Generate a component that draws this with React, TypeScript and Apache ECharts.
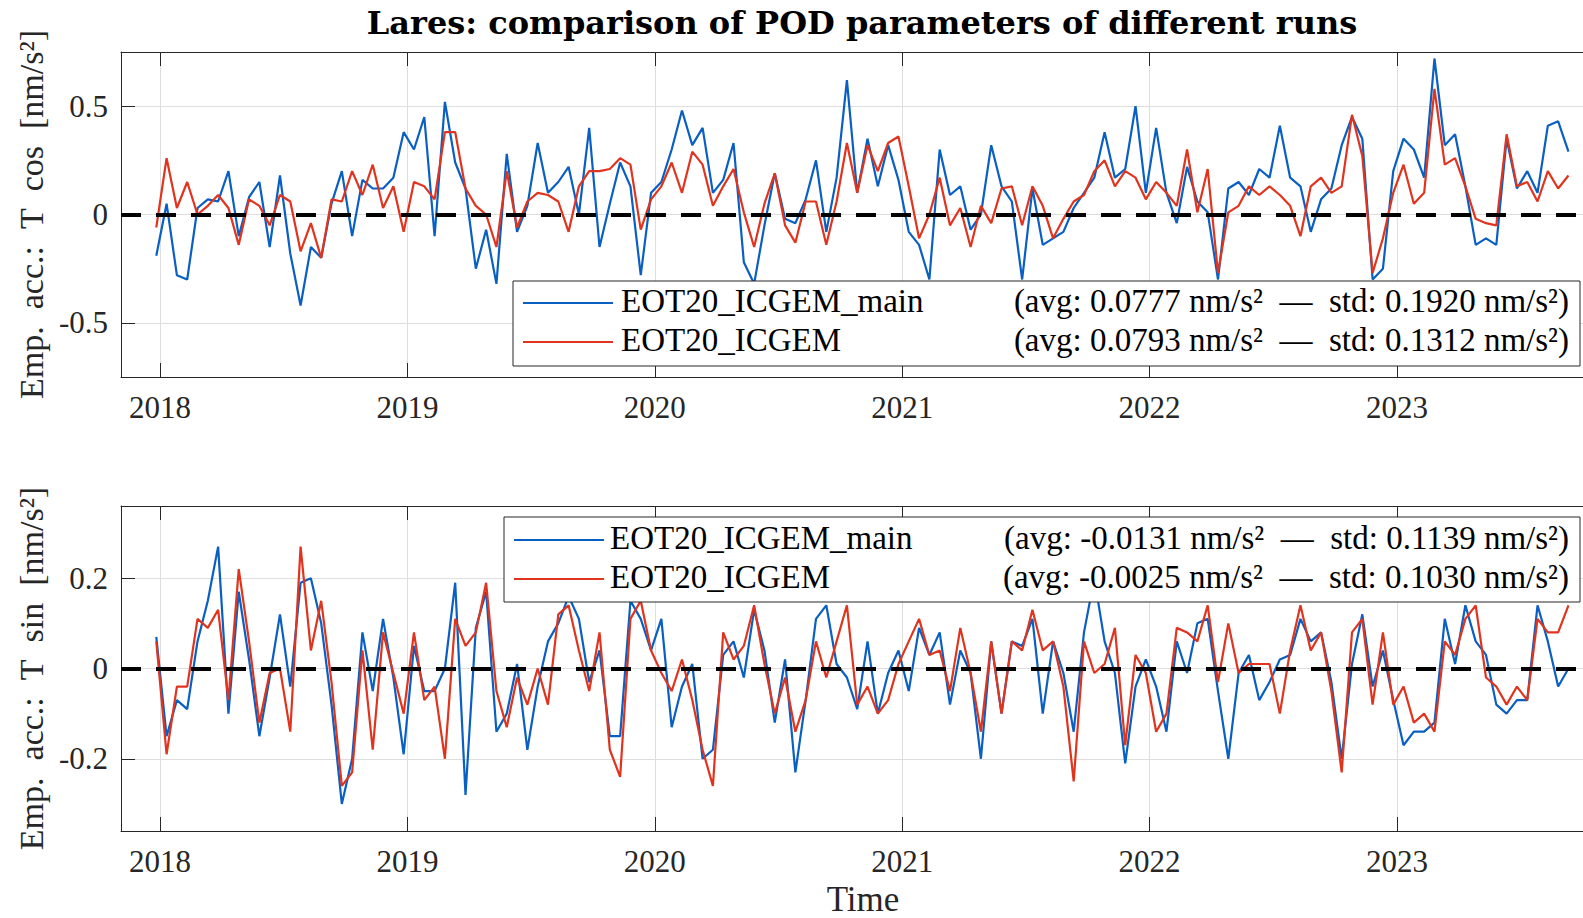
import React, { useEffect, useRef } from "react";
import * as echarts from "echarts";

// sampling of the arcs (decimal years)
const t0 = 2017.985;
const dt = 1 / 24;

// Emp. acc.: T cos [nm/s^2]
const cosMain = [
  -0.19, 0.05, -0.28, -0.30, 0.03, 0.07, 0.06, 0.20, -0.10, 0.08, 0.15, -0.15, 0.18, -0.18, -0.42, -0.15, -0.20, 0.05, 0.20, -0.10, 0.16, 0.12, 0.12, 0.17,
  0.38, 0.30, 0.45, -0.10, 0.52, 0.24, 0.12, -0.25, -0.07, -0.32, 0.28, -0.08, 0.04, 0.33, 0.10, 0.15, 0.22, 0.00, 0.40, -0.15, 0.05, 0.24, 0.13, -0.28,
  0.10, 0.15, 0.30, 0.48, 0.32, 0.40, 0.10, 0.16, 0.33, -0.22, -0.32, -0.05, 0.19, -0.02, -0.04, 0.07, 0.25, -0.08, 0.17, 0.62, 0.10, 0.35, 0.13, 0.32,
  0.16, -0.08, -0.14, -0.30, 0.30, 0.09, 0.13, -0.07, 0.00, 0.32, 0.13, 0.06, -0.30, 0.12, -0.14, -0.11, -0.08, 0.03, 0.10, 0.17, 0.38, 0.17, 0.21, 0.50,
  0.10, 0.40, 0.10, -0.04, 0.22, 0.06, 0.01, -0.30, 0.12, 0.15, 0.09, 0.21, 0.17, 0.41, 0.17, 0.13, -0.08, 0.07, 0.12, 0.32, 0.45, 0.35, -0.30, -0.25,
  0.20, 0.35, 0.30, 0.17, 0.72, 0.32, 0.37, 0.13, -0.14, -0.11, -0.14, 0.35, 0.12, 0.20, 0.10, 0.41, 0.43, 0.29,
];
const cosRef = [
  -0.06, 0.26, 0.03, 0.15, 0.00, 0.04, 0.09, 0.03, -0.14, 0.07, 0.04, -0.05, 0.09, 0.06, -0.17, -0.04, -0.20, 0.07, 0.06, 0.20, 0.09, 0.23, 0.03, 0.13,
  -0.08, 0.15, 0.13, 0.07, 0.38, 0.38, 0.12, 0.04, 0.00, -0.15, 0.20, -0.06, 0.06, 0.10, 0.09, 0.06, -0.08, 0.13, 0.20, 0.20, 0.21, 0.26, 0.23, -0.07,
  0.07, 0.13, 0.24, 0.10, 0.29, 0.23, 0.04, 0.13, 0.21, 0.01, -0.15, 0.05, 0.19, -0.05, -0.13, 0.06, 0.06, -0.14, 0.06, 0.33, 0.10, 0.32, 0.20, 0.33,
  0.36, 0.13, -0.11, 0.00, 0.17, -0.05, 0.03, -0.15, 0.04, -0.04, 0.12, 0.13, -0.05, 0.13, 0.04, -0.11, -0.02, 0.06, 0.09, 0.20, 0.25, 0.13, 0.20, 0.17,
  0.07, 0.15, 0.10, 0.04, 0.30, 0.01, 0.21, -0.27, 0.01, 0.04, 0.13, 0.09, 0.13, 0.09, 0.04, -0.10, 0.13, 0.17, 0.10, 0.13, 0.46, 0.27, -0.27, -0.11,
  0.10, 0.23, 0.05, 0.10, 0.58, 0.23, 0.26, 0.13, -0.02, -0.04, -0.05, 0.37, 0.13, 0.15, 0.06, 0.20, 0.12, 0.18,
];

// Emp. acc.: T sin [nm/s^2]
const sinMain = [
  0.07, -0.15, -0.07, -0.09, 0.06, 0.15, 0.27, -0.10, 0.17, 0.02, -0.15, -0.02, 0.12, -0.04, 0.19, 0.20, 0.10, -0.08, -0.30, -0.20, 0.08, -0.05, 0.11, -0.02,
  -0.19, 0.05, -0.05, -0.05, 0.00, 0.19, -0.28, 0.09, 0.17, -0.14, -0.10, 0.01, -0.18, -0.04, 0.06, 0.10, 0.16, 0.11, -0.03, 0.04, -0.15, -0.15, 0.15, 0.11,
  0.04, 0.11, -0.13, -0.04, 0.01, -0.20, -0.18, 0.03, 0.06, -0.02, 0.13, 0.04, -0.12, 0.02, -0.23, -0.07, 0.11, 0.14, 0.01, -0.02, -0.09, 0.06, -0.10, -0.01,
  0.04, -0.05, 0.09, 0.03, 0.08, -0.08, 0.04, -0.01, -0.20, 0.06, -0.10, 0.06, 0.05, 0.11, -0.10, 0.06, -0.01, -0.14, 0.08, 0.20, 0.06, -0.01, -0.21, -0.04,
  0.02, -0.04, -0.14, 0.06, -0.01, 0.10, 0.11, -0.05, -0.20, -0.01, 0.03, -0.07, -0.03, 0.02, 0.03, 0.11, 0.06, 0.08, -0.03, -0.20, 0.01, 0.12, -0.04, 0.04,
  -0.07, -0.17, -0.14, -0.14, -0.12, 0.11, 0.01, 0.14, 0.06, 0.03, -0.08, -0.10, -0.07, -0.07, 0.14, 0.06, -0.04, 0.00,
];
const sinRef = [
  0.06, -0.19, -0.04, -0.04, 0.11, 0.09, 0.13, -0.07, 0.22, 0.06, -0.12, -0.01, 0.00, -0.14, 0.27, 0.04, 0.15, -0.03, -0.26, -0.23, 0.04, -0.18, 0.08, -0.01,
  -0.10, 0.08, -0.07, -0.04, -0.20, 0.11, 0.05, 0.08, 0.19, -0.05, -0.13, -0.02, -0.08, 0.00, -0.08, 0.12, 0.14, 0.04, -0.05, 0.08, -0.18, -0.24, 0.11, 0.15,
  0.04, -0.01, -0.05, 0.02, -0.07, -0.18, -0.26, 0.08, 0.02, 0.05, 0.14, 0.01, -0.10, -0.02, -0.14, -0.07, 0.06, -0.02, 0.06, 0.14, -0.08, -0.04, -0.10, -0.07,
  0.01, 0.06, 0.11, 0.03, 0.04, -0.05, 0.09, -0.01, -0.14, 0.06, -0.10, 0.06, 0.04, 0.13, 0.04, 0.06, -0.04, -0.25, 0.06, -0.01, 0.01, 0.09, -0.17, 0.03,
  -0.01, -0.14, -0.10, 0.09, 0.08, 0.06, 0.14, -0.03, 0.10, -0.01, 0.01, 0.01, 0.01, -0.10, 0.04, 0.14, 0.04, 0.08, -0.05, -0.23, 0.08, 0.11, -0.08, 0.08,
  -0.08, -0.04, -0.12, -0.10, -0.14, 0.06, 0.03, 0.11, 0.14, -0.02, -0.04, -0.08, -0.04, -0.07, 0.11, 0.08, 0.08, 0.14,
];

const seriesNames = ["EOT20_ICGEM_main", "EOT20_ICGEM"];
const statsCos = [
  "(avg: 0.0777 nm/s²\u2002—\u2002std: 0.1920 nm/s²)",
  "(avg: 0.0793 nm/s²\u2002—\u2002std: 0.1312 nm/s²)",
];
const statsSin = [
  "(avg: -0.0131 nm/s²\u2002—\u2002std: 0.1139 nm/s²)",
  "(avg: -0.0025 nm/s²\u2002—\u2002std: 0.1030 nm/s²)",
];
const titleText = "Lares: comparison of POD parameters of different runs";
const yNames = ["Emp.\u2002acc.:\u2002T\u2002cos\u2002[nm/s²]", "Emp.\u2002acc.:\u2002T\u2002sin\u2002[nm/s²]"];
const xName = "Time";

const BLUE = "#0a5fc3";
const RED = "#e0341f";
const AX = "#262626";
const FONT = '"Liberation Serif", "Times New Roman", serif';
const TITLE_FONT = '"DejaVu Serif", "Liberation Serif", serif';

const xMin = 2017.8424;
const xMax = 2023.841;
const yLims = [0.75, 0.36];
const ySplits = [3, 4];

const toPairs = (vals: number[]) => vals.map((v, i) => [t0 + i * dt, v]);

function makeXAxes(gridIndex: number, name?: string) {
  const common = {
    type: "value" as const,
    gridIndex,
    min: xMin,
    max: xMax,
    splitNumber: 6,
    axisLine: { show: true, onZero: false, lineStyle: { color: AX, width: 1 } },
    axisTick: { show: true, inside: true, length: 14, lineStyle: { color: AX, width: 1 } },
  };
  return [
    {
      ...common,
      position: "bottom",
      axisLabel: {
        show: true,
        showMinLabel: false,
        showMaxLabel: false,
        margin: 15,
        fontSize: 31,
        fontFamily: FONT,
        color: AX,
        formatter: (v: number) => String(Math.round(v)),
      },
      splitLine: { show: true, lineStyle: { color: "#dedede", width: 1 } },
      name: name || "",
      nameLocation: "middle",
      nameGap: 51,
      nameTextStyle: { fontSize: 35, fontFamily: FONT, color: AX },
    },
    {
      ...common,
      position: "top",
      axisLabel: { show: false },
      splitLine: { show: false },
    },
  ];
}

function makeYAxes(gridIndex: number, lim: number, split: number, name: string) {
  const common = {
    type: "value" as const,
    gridIndex,
    min: -lim,
    max: lim,
    splitNumber: split,
    axisLine: { show: true, onZero: false, lineStyle: { color: AX, width: 1 } },
    axisTick: { show: true, inside: true, length: 14, lineStyle: { color: AX, width: 1 } },
  };
  return [
    {
      ...common,
      position: "left",
      axisLabel: {
        show: true,
        showMinLabel: false,
        showMaxLabel: false,
        margin: 13,
        fontSize: 31,
        fontFamily: FONT,
        color: AX,
      },
      splitLine: { show: true, lineStyle: { color: "#dedede", width: 1 } },
      name,
      nameLocation: "middle",
      nameGap: 70,
      nameTextStyle: { fontSize: 34, fontFamily: FONT, color: AX },
    },
    {
      ...common,
      position: "right",
      axisLabel: { show: false },
      splitLine: { show: false },
    },
  ];
}

function legendBox(x: number, y: number, w: number, h: number, row1: number, row2: number, nameX: number, stats: string[]) {
  const rows = [row1, row2];
  const colors = [BLUE, RED];
  const els: any[] = [
    {
      type: "rect",
      shape: { x, y, width: w, height: h },
      style: { fill: "#ffffff", stroke: AX, lineWidth: 1 },
      z: 100,
    },
  ];
  rows.forEach((ry, k) => {
    els.push({
      type: "line",
      shape: { x1: x + 10, y1: ry + 2, x2: x + 100, y2: ry + 2 },
      style: { stroke: colors[k], lineWidth: 2.2 },
      z: 101,
    });
    els.push({
      type: "text",
      x: nameX,
      y: ry,
      style: {
        text: seriesNames[k],
        fontSize: 33,
        fontFamily: FONT,
        fill: "#000",
        align: "left",
        verticalAlign: "middle",
      },
      z: 101,
    });
    els.push({
      type: "text",
      x: 1569,
      y: ry,
      style: {
        text: stats[k],
        fontSize: 33,
        fontFamily: FONT,
        fill: "#000",
        align: "right",
        verticalAlign: "middle",
      },
      z: 101,
    });
  });
  return els;
}

const zeroLine = {
  silent: true,
  symbol: ["none", "none"],
  label: { show: false },
  lineStyle: { color: "#000", width: 4, type: [20, 15] },
  data: [{ yAxis: 0 }],
  z: 5,
};

export default function App() {
  const ref = useRef<HTMLDivElement>(null);

  useEffect(() => {
    if (!ref.current) return;
    const chart = echarts.init(ref.current, undefined, { renderer: "svg" });
    const lineSeries = (name: string, data: number[], color: string, xi: number, yi: number, withZero: boolean) => ({
      type: "line",
      name,
      xAxisIndex: xi,
      yAxisIndex: yi,
      data: toPairs(data),
      showSymbol: false,
      symbol: "none",
      clip: true,
      lineStyle: { color, width: 2.2 },
      itemStyle: { color },
      emphasis: { disabled: true },
      ...(withZero ? { markLine: zeroLine } : {}),
    });

    chart.setOption({
      animation: false,
      backgroundColor: "#ffffff",
      grid: [
        { left: 121, top: 52, width: 1484, height: 325 },
        { left: 121, top: 506, width: 1484, height: 326 },
      ],
      xAxis: [...makeXAxes(0), ...makeXAxes(1, xName)],
      yAxis: [
        ...makeYAxes(0, yLims[0], ySplits[0], yNames[0]),
        ...makeYAxes(1, yLims[1], ySplits[1], yNames[1]),
      ],
      series: [
        lineSeries(seriesNames[0], cosMain, BLUE, 0, 0, false),
        lineSeries(seriesNames[1], cosRef, RED, 0, 0, true),
        lineSeries(seriesNames[0], sinMain, BLUE, 2, 2, false),
        lineSeries(seriesNames[1], sinRef, RED, 2, 2, true),
      ],
      graphic: [
        {
          type: "text",
          x: 862,
          y: 23,
          style: {
            text: titleText,
            fontSize: 32,
            fontWeight: "bold",
            fontFamily: TITLE_FONT,
            fill: "#000",
            align: "center",
            verticalAlign: "middle",
          },
          z: 101,
        },
        ...legendBox(513, 281, 1067, 85, 301, 340, 621, statsCos),
        ...legendBox(504, 517, 1076, 85, 538, 577, 610, statsSin),
      ],
    });
    return () => chart.dispose();
  }, []);

  return (
    <div
      ref={ref}
      style={{ position: "fixed", left: 0, top: 0, width: 1625, height: 918, background: "#fff" }}
    />
  );
}
